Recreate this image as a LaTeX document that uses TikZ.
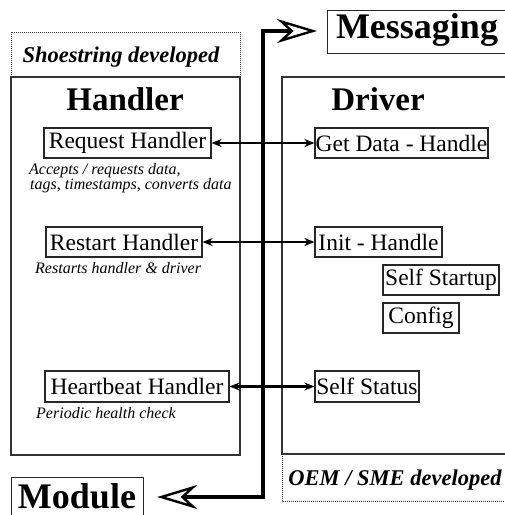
\documentclass[tikz,border=0pt]{standalone}
\usepackage{fontspec}
\setmainfont{Liberation Serif}
\usetikzlibrary{arrows.meta}
\begin{document}
\begin{tikzpicture}[x=1pt,y=-1pt,
  box/.style={draw=black!85, line width=1.2pt, inner sep=0pt, minimum height=30pt, font=\fontsize{23.5}{26}\selectfont},
  bigbox/.style={draw=black!85, line width=1.2pt, inner sep=0pt},
  frame/.style={draw=black!80, line width=1.1pt},
  dotframe/.style={draw=black!80, line width=1pt, densely dotted},
  title/.style={font=\fontsize{33}{36}\selectfont\bfseries, inner sep=0pt, anchor=base},
  bigtext/.style={font=\fontsize{36}{38}\selectfont\bfseries, inner sep=0pt, anchor=base},
  note/.style={font=\fontsize{16}{18}\selectfont\itshape, inner sep=0pt, anchor=base west},
  sect/.style={font=\fontsize{22.5}{25}\selectfont\bfseries\itshape, inner sep=0pt, anchor=base},
  link/.style={line width=2.1pt, {Stealth[length=10pt,width=8pt]}-{Stealth[length=10pt,width=8pt]}},
  bus/.style={line width=3.6pt, {Stealth[open,length=40pt,width=24pt,inset=13pt,line width=2.4pt]}-{Stealth[open,length=40pt,width=24pt,inset=13pt,line width=2.4pt]}}
]
\useasboundingbox (0,0) rectangle (505,515);
% frames
\path[dotframe] (11,32) rectangle (240,77);
\path[frame] (11,77) rectangle (240,455);
\path[frame] (282,77) rectangle (510,454);
\path[dotframe] (282,454) rectangle (510,501);
% section labels
\node[sect] (shoe) at (121,62) {Shoestring developed};
\node[sect] (oem) at (395,485) {OEM / SME developed};
\node[title] (handler) at (125,110) {Handler};
\node[title] (driver) at (378,110) {Driver};
% top/bottom boxes
\node[bigbox, minimum width=180pt, minimum height=43pt, anchor=north west] (msg) at (327,9.5) {};
\node[bigtext] (msgt) at (417,38) {Messaging};
\node[bigbox, minimum width=132pt, minimum height=40pt, anchor=north west] (mod) at (11,477) {};
\node[bigtext] (modt) at (77,508) {Module};
% handler boxes
\node[box, minimum width=167pt] (req) at (127.5,143) {Request Handler};
\node[box, minimum width=156pt] (rst) at (124,242) {Restart Handler};
\node[box, minimum width=184pt, minimum height=31pt] (hb) at (137,386.5) {Heartbeat Handler};
% driver boxes
\node[box, minimum width=173pt] (get) at (401.5,143) {Get Data - Handle};
\node[box, minimum width=127pt] (init) at (378.5,242) {Init - Handle};
\node[box, minimum width=116pt] (ss) at (441,280) {Self Startup};
\node[box, minimum width=76pt] (cfg) at (421,318) {Config};
\node[box, minimum width=104pt, minimum height=31pt] (sst) at (367,386.5) {Self Status};
% notes
\node[note] (n1) at (29,174) {Accepts / requests data,};
\node[note] (n2) at (30,189.5) {tags, timestamps, converts data};
\node[note] (n3) at (35,273) {Restarts handler \& driver};
\node[note] (n4) at (36,418) {Periodic health check};
% bus
\coordinate (c1) at (263,497);
\coordinate (c2) at (263,31);
\draw[bus, shorten <=13pt, shorten >=10pt] (mod.east |- c1) -- (c1) -- (c2) -- (msg.west |- c2);
% links
\draw[link] (req) -- (get);
\draw[link] (rst) -- (init);
\draw[link] (hb) -- (sst);
\end{tikzpicture}
\end{document}
